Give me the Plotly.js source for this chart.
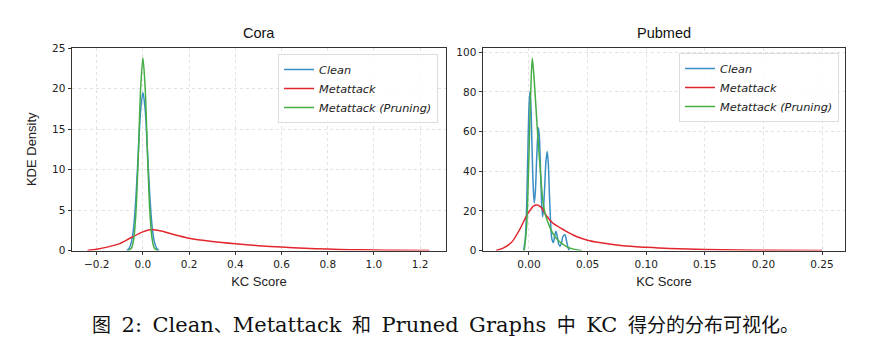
<!DOCTYPE html>
<html>
<head>
<meta charset="utf-8">
<script src="https://cdn.plot.ly/plotly-3.0.1.min.js"></script>
<style>
  html, body { margin: 0; padding: 0; background: #fff; }
  #chart { width: 874px; height: 352px; }
</style>
</head>
<body>
<div id="chart"></div>
<script>
// ---------- Data ----------
const seriesNames = ["Clean", "Metattack", "Metattack (Pruning)"];

// Cora
const coraCleanX = [-0.07, -0.06, -0.05, -0.04, -0.03, -0.02, -0.01, 0.0, 0.01, 0.02, 0.03, 0.04, 0.05, 0.06, 0.07];
const coraCleanY = [0.0, 0.27, 1.0, 2.9, 6.7, 12.1, 17.3, 19.5, 17.3, 12.1, 6.7, 2.9, 1.0, 0.27, 0.0];

const coraMetaX = [-0.24, -0.2, -0.15, -0.1, -0.05, 0.0, 0.03, 0.05, 0.08, 0.1, 0.15, 0.2, 0.3, 0.4, 0.5, 0.6, 0.7, 0.8, 0.9, 1.0, 1.1, 1.24];
const coraMetaY = [0.0, 0.15, 0.45, 0.85, 1.6, 2.3, 2.55, 2.55, 2.4, 2.25, 1.85, 1.5, 1.1, 0.82, 0.6, 0.42, 0.28, 0.17, 0.1, 0.06, 0.03, 0.0];

const coraPruneX = [-0.065, -0.05, -0.04, -0.03, -0.02, -0.01, 0.0, 0.01, 0.02, 0.03, 0.04, 0.05, 0.065];
const coraPruneY = [0.0, 0.28, 1.4, 4.8, 11.7, 19.9, 23.8, 19.9, 11.7, 4.8, 1.4, 0.28, 0.0];

// Pubmed
const pubCleanX = [-0.0045, -0.003, -0.002, -0.001, 0.0, 0.0008, 0.0016, 0.0025, 0.0035, 0.0045,
                   0.0055, 0.0065, 0.0075, 0.0082, 0.009, 0.01, 0.011, 0.0117,
                   0.0125, 0.0135, 0.0145, 0.0156, 0.0165, 0.0175, 0.0185, 0.0195,
                   0.0208, 0.0218, 0.023, 0.0242, 0.0255, 0.0265, 0.0278, 0.029, 0.0307, 0.032, 0.0333, 0.0344];
const pubCleanY = [0, 7, 22, 48, 72, 80, 74, 55, 34, 24,
                   30, 45, 58, 62, 56, 38, 22, 17,
                   22, 33, 45, 50, 44, 28, 14, 6,
                   4, 7, 9.7, 7, 3, 2.2, 4, 7, 8, 5, 1.5, 0];

const pubMetaX = [-0.028, -0.022, -0.015, -0.008, -0.003, 0.0, 0.004, 0.0072, 0.01, 0.015, 0.02, 0.03, 0.04, 0.05, 0.06, 0.08, 0.1, 0.12, 0.15, 0.18, 0.21, 0.25];
const pubMetaY = [0, 1.2, 4, 10.5, 16.5, 19.5, 22.5, 23, 22, 17.5, 14, 10.3, 7.2, 5.2, 4, 2.4, 1.6, 1.0, 0.5, 0.25, 0.1, 0];

const pubPruneX = [-0.004, -0.002, 0.0, 0.0015, 0.0028, 0.004, 0.006, 0.0075, 0.0095, 0.0117, 0.014, 0.017, 0.02, 0.025, 0.032, 0.038, 0.045];
const pubPruneY = [0, 12, 48, 80, 97, 90, 72, 58, 42, 26, 18, 13, 9, 5, 2, 0.7, 0];

const coraTicksY = [0, 5, 10, 15, 20, 25];
const coraTicksX = [-0.2, 0.0, 0.2, 0.4, 0.6, 0.8, 1.0, 1.2];
const pubTicksY = [0, 20, 40, 60, 80, 100];
const pubTicksX = [0.0, 0.05, 0.1, 0.15, 0.2, 0.25];

const panelTitles = ["Cora", "Pubmed"];
const xTitle = "KC Score";
const yTitle = "KDE Density";
const caption = "图 2: Clean、Metattack 和 Pruned Graphs 中 KC 得分的分布可视化。";

// ---------- Styling ----------
const colors = ["#3a8ec6", "#e3262e", "#45ad45"];
const W = 874, H = 352;
const sans = "DejaVu Sans, sans-serif";
const helv = "Liberation Sans, Arial, sans-serif";

function tr(x, y, i, xa, ya, leg) {
  return {
    x: x, y: y, type: "scatter", mode: "lines",
    name: seriesNames[i],
    line: { color: colors[i], width: 1.5, shape: "spline", smoothing: 0.8 },
    xaxis: xa, yaxis: ya, legend: leg, hoverinfo: "skip"
  };
}

const traces = [
  tr(coraCleanX, coraCleanY, 0, "x", "y", "legend"),
  tr(coraMetaX, coraMetaY, 1, "x", "y", "legend"),
  tr(coraPruneX, coraPruneY, 2, "x", "y", "legend"),
  tr(pubCleanX, pubCleanY, 0, "x2", "y2", "legend2"),
  tr(pubMetaX, pubMetaY, 1, "x2", "y2", "legend2"),
  tr(pubPruneX, pubPruneY, 2, "x2", "y2", "legend2")
];

function px(v) { return v / W; }
function py(v) { return (H - v) / H; }

const axBase = {
  showline: true, mirror: true, linecolor: "#333", linewidth: 1,
  ticks: "outside", ticklen: 3.5, tickwidth: 1, tickcolor: "#333",
  showgrid: true, gridcolor: "#e2e2e2", griddash: "dot", gridwidth: 1,
  zeroline: false,
  tickfont: { family: sans, size: 10.5, color: "#222" }
};

function legendCfg(xl, yt) {
  return {
    x: px(xl), y: py(yt), xanchor: "left", yanchor: "top",
    xref: "paper", yref: "paper",
    bgcolor: "rgba(255,255,255,0.85)", bordercolor: "#dcdcdc", borderwidth: 1,
    font: { family: sans, size: 11.3, color: "#222", style: "italic" },
    itemwidth: 30, tracegroupgap: 0
  };
}

// caption: CJK characters in the CJK font, Latin in a serif,
// word gaps set as en spaces (like the wide TeX inter-word glue)
function captionHtml(s) {
  let out = "", buf = "", cjk = null;
  const isCJK = ch => /[\u3000-\u303f\u4e00-\u9fff\uff00-\uffef]/.test(ch);
  const flush = () => {
    if (!buf) return;
    out += cjk
      ? '<span style="font-family:\'Noto Sans CJK SC\';font-size:19px">' + buf + "</span>"
      : buf.replace(/ /g, "\u2002");
    buf = "";
  };
  for (const ch of s) {
    const c = isCJK(ch);
    if (cjk !== null && c !== cjk) flush();
    cjk = c; buf += ch;
  }
  flush();
  return out;
}

const layout = {
  width: W, height: H,
  margin: { l: 0, r: 0, t: 0, b: 0 },
  paper_bgcolor: "#fff", plot_bgcolor: "#fff",
  showlegend: true,
  legend: legendCfg(278, 54),
  legend2: legendCfg(679, 53),
  xaxis: Object.assign({}, axBase, {
    domain: [px(72), px(446)], range: [-0.307, 1.312],
    tickvals: coraTicksX, ticktext: coraTicksX.map(v => (v < 0 ? "\u2212" + Math.abs(v).toFixed(1) : v.toFixed(1))),
    anchor: "y",
    title: { text: xTitle, font: { family: helv, size: 13, color: "#222" }, standoff: 8 }
  }),
  yaxis: Object.assign({}, axBase, {
    domain: [py(250.5), py(48)], range: [0, 25],
    tickvals: coraTicksY, anchor: "x",
    title: { text: yTitle, font: { family: helv, size: 13, color: "#222" }, standoff: 12 }
  }),
  xaxis2: Object.assign({}, axBase, {
    domain: [px(483), px(845)], range: [-0.0392, 0.2696],
    tickvals: pubTicksX, ticktext: pubTicksX.map(v => v.toFixed(2)),
    anchor: "y2",
    title: { text: xTitle, font: { family: helv, size: 13, color: "#222" }, standoff: 8 }
  }),
  yaxis2: Object.assign({}, axBase, {
    domain: [py(250.5), py(48)], range: [0, 102.2],
    tickvals: pubTicksY, anchor: "x2"
  }),
  annotations: [
    { text: panelTitles[0], x: px(259), y: py(33), xref: "paper", yref: "paper",
      xanchor: "center", yanchor: "middle",
      showarrow: false, font: { family: helv, size: 14.5, color: "#111" } },
    { text: panelTitles[1], x: px(664), y: py(33), xref: "paper", yref: "paper",
      xanchor: "center", yanchor: "middle",
      showarrow: false, font: { family: helv, size: 14.5, color: "#111" } },
    { text: captionHtml(caption), x: px(445), y: py(323), xref: "paper", yref: "paper",
      xanchor: "center", yanchor: "middle",
      showarrow: false, font: { family: "DejaVu Serif, serif", size: 21, color: "#111" } }
  ]
};

Plotly.newPlot("chart", traces, layout, { staticPlot: true, displayModeBar: false });
</script>
</body>
</html>
